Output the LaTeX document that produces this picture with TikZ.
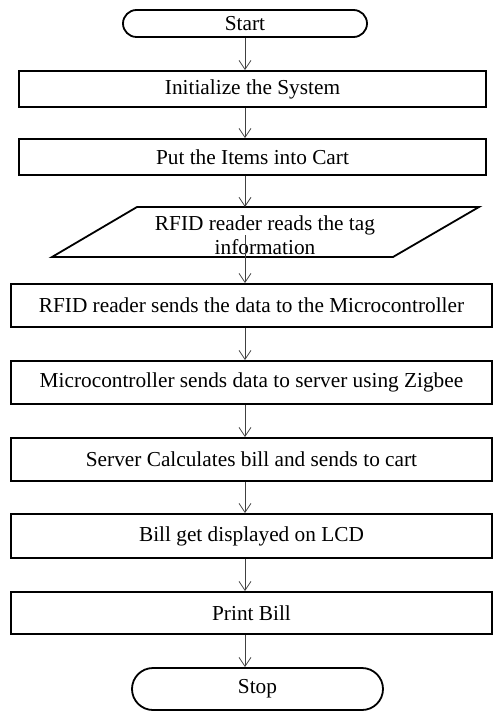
\documentclass[tikz,border=0pt]{standalone}
\usepackage{fontspec}
\setmainfont{Liberation Serif}
\usetikzlibrary{arrows.meta,shapes.misc}

\tikzset{
  flowtext/.style={font=\fontsize{21.3}{24.5}\selectfont},
  stepbox/.style={flowtext, draw=black, line width=1.8pt, inner sep=0pt, rectangle},
  termbox/.style={flowtext, draw=black, line width=1.8pt, inner sep=0pt, rounded rectangle},
  flowarrow/.style={draw=black!75, line width=0.8pt, -{Straight Barb[length=9pt,width=12pt]}}
}

\begin{document}
\begin{tikzpicture}[x=1pt,y=1pt]
\useasboundingbox (0,0) rectangle (493,-711);

% terminals and process steps
\node[termbox, minimum width=244, minimum height=27] (start) at (245,-23.5) {Start};
\node[stepbox, minimum width=467, minimum height=36] (init) at (252.5,-89) {Initialize the System};
\node[stepbox, minimum width=467, minimum height=36] (put) at (252.5,-157) {Put the Items into Cart};

% input step drawn as a parallelogram
\coordinate (pTL) at (137,-207);
\coordinate (pTR) at (479,-207);
\coordinate (pBR) at (393,-257);
\coordinate (pBL) at (52,-257);
\draw[line width=1.8pt, line join=miter] (pTL) -- (pTR) -- (pBR) -- (pBL) -- cycle;
\node[flowtext, align=center, inner sep=0pt] (para) at (265,-235) {RFID reader reads the tag\\information};

\node[stepbox, minimum width=481, minimum height=43] (rfid) at (251.5,-305.5) {RFID reader sends the data to the Microcontroller};
\node[stepbox, minimum width=481, minimum height=43] (micro) at (251.5,-382.5) {Microcontroller sends data to server using Zigbee};
\node[stepbox, minimum width=481, minimum height=43] (server) at (251.5,-459.5) {Server Calculates bill and sends to cart};
\node[stepbox, minimum width=481, minimum height=44] (bill) at (251.5,-536) {Bill get displayed on LCD};
\node[stepbox, minimum width=481, minimum height=42] (print) at (251.5,-613) {Print Bill};
\node[termbox, minimum width=251, minimum height=42] (stop) at (257.5,-689) {Stop};

% connectors
\draw[flowarrow] (start.south) -- (start.south |- init.north);
\draw[flowarrow] (init.south -| start.south) -- (put.north -| start.south);
\draw[flowarrow] (put.south -| start.south) -- (pTL -| start.south);
\draw[flowarrow] (para.center -| start.south) -- (rfid.north -| start.south);
\draw[flowarrow] (rfid.south -| start.south) -- (micro.north -| start.south);
\draw[flowarrow] (micro.south -| start.south) -- (server.north -| start.south);
\draw[flowarrow] (server.south -| start.south) -- (bill.north -| start.south);
\draw[flowarrow] (bill.south -| start.south) -- (print.north -| start.south);
\draw[flowarrow] (print.south -| start.south) -- (stop.north -| start.south);
\end{tikzpicture}
\end{document}
